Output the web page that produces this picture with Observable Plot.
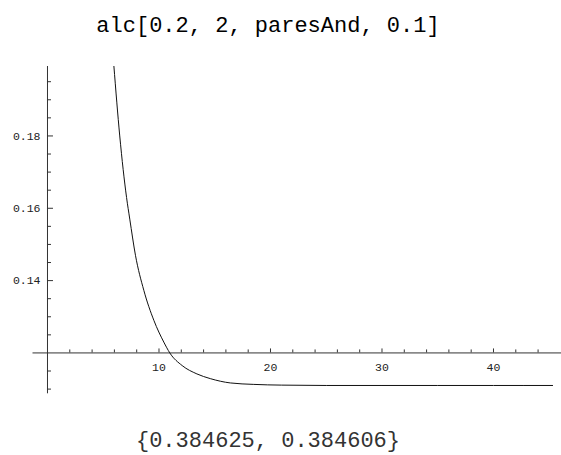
<!DOCTYPE html>
<html><head><meta charset="utf-8">
<script src="https://cdn.jsdelivr.net/npm/d3@7"></script>
<script src="https://cdn.jsdelivr.net/npm/@observablehq/plot@0.6"></script>
<style>
body{margin:0;background:#fff;}
#wrap{position:relative;width:561px;height:455px;overflow:hidden;background:#fff;}
.cell{position:absolute;left:0;width:536px;text-align:center;font-family:"Liberation Mono",monospace;font-size:22px;line-height:22px;color:#111;white-space:pre;}
#title{top:16px;font-weight:normal;color:#000;}
#output{top:431px;color:#333;}
#chart{position:absolute;left:0;top:45px;}
</style></head><body>
<div id="wrap"><div id="title" class="cell"></div><div id="chart"></div><div id="output" class="cell"></div></div>
<script>
const titleText = "alc[0.2, 2, paresAnd, 0.1]";
const outputText = "{0.384625, 0.384606}";
const xValues = [5.95, 6.48, 7.09, 7.38, 7.89, 8.64, 9.54, 10.43, 10.97, 12.08, 13.4, 14.6, 16.4, 18.5, 21, 25, 30, 35, 40, 45.3];
const yValues = [0.1995, 0.180, 0.163, 0.157, 0.147, 0.1373, 0.129, 0.123, 0.120, 0.1165, 0.1142, 0.1129, 0.1117, 0.1113, 0.1111, 0.1110, 0.1110, 0.1110, 0.1110, 0.1110];
const xMajorTicks = [10, 20, 30, 40];
const xMinorTicks = [2, 4, 6, 8, 12, 14, 16, 18, 22, 24, 26, 28, 32, 34, 36, 38, 42, 44];
const yMajorTicks = [0.14, 0.16, 0.18];
const yMinorTicks = [0.11, 0.115, 0.125, 0.13, 0.135, 0.145, 0.15, 0.155, 0.165, 0.17, 0.175, 0.185, 0.19, 0.195];
const xAxisAt = 0.12;
const yAxisAt = 0;

document.getElementById("title").textContent = titleText;
document.getElementById("output").textContent = outputText;

const curve = xValues.map((x, i) => ({x, y: yValues[i]}));
const axisColor = "#333";
const plot = Plot.plot({
  width: 561, height: 365,
  marginLeft: 32.5, marginRight: 0, marginTop: 21, marginBottom: 16.7,
  x: {domain: [-1.3, 46.1], axis: null},
  y: {domain: [0.1087, 0.1992], axis: null},
  style: {background: "white", fontFamily: "Liberation Mono, monospace", fontSize: "11.5px", color: "#111"},
  marks: [
    Plot.ruleY([xAxisAt], {stroke: axisColor, strokeWidth: 1}),
    Plot.ruleX([yAxisAt], {stroke: axisColor, strokeWidth: 1}),
    Plot.ruleX(xMajorTicks, {x: d => d, y1: () => xAxisAt, y2: () => xAxisAt, insetBottom: 4, stroke: axisColor}),
    Plot.ruleX(xMinorTicks, {x: d => d, y1: () => xAxisAt, y2: () => xAxisAt, insetBottom: 3, stroke: axisColor}),
    Plot.ruleY(yMajorTicks, {y: d => d, x1: () => yAxisAt, x2: () => yAxisAt, insetRight: -6, stroke: axisColor}),
    Plot.ruleY(yMinorTicks, {y: d => d, x1: () => yAxisAt, x2: () => yAxisAt, insetRight: -4, stroke: axisColor}),
    Plot.text(xMajorTicks, {x: d => d, y: () => xAxisAt, text: d => String(d), dy: 14, fill: "#222"}),
    Plot.text(yMajorTicks, {x: () => yAxisAt, y: d => d, text: d => d.toFixed(2), textAnchor: "end", dx: -7, fill: "#222"}),
    Plot.line(curve, {x: "x", y: "y", stroke: "#111", strokeWidth: 1, curve: "monotone-x", clip: true})
  ]
});
document.getElementById("chart").appendChild(plot);
</script>
</body></html>
